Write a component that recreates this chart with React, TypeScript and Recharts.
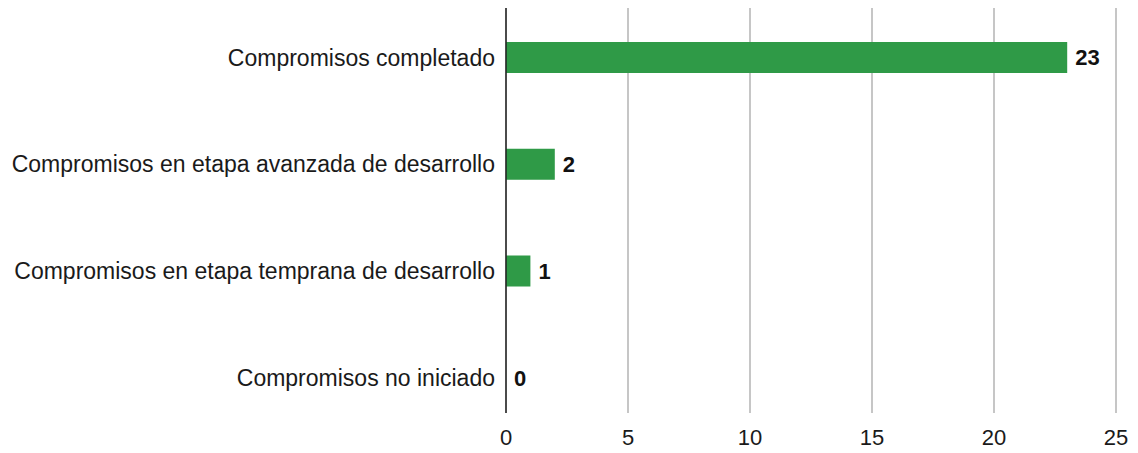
import { BarChart, Bar, XAxis, YAxis, CartesianGrid, LabelList } from "recharts";

const categories = [
  "Compromisos completado",
  "Compromisos en etapa avanzada de desarrollo",
  "Compromisos en etapa temprana de desarrollo",
  "Compromisos no iniciado",
];
const values = [23, 2, 1, 0];
const xTicks = [0, 5, 10, 15, 20, 25];

const data = categories.map((name, i) => ({ name, value: values[i] }));

const font = "'Liberation Sans', Arial, sans-serif";

export default function App() {
  return (
    <div style={{ position: "absolute", left: 0, top: 0, background: "#fff" }}>
      <BarChart
        width={1138}
        height={453}
        data={data}
        layout="vertical"
        margin={{ top: 8, right: 22, bottom: 0, left: 0 }}
      >
        <CartesianGrid horizontal={false} stroke="#b3b3b3" strokeWidth={1.5} />
        <XAxis
          type="number"
          domain={[0, 25]}
          ticks={xTicks}
          axisLine={false}
          tickLine={false}
          tickSize={0}
          tickMargin={16}
          height={40}
          tick={{ fontFamily: font, fontSize: 22, fill: "#1a1a1a" }}
        />
        <YAxis
          type="category"
          dataKey="name"
          width={506}
          padding={{ top: -4, bottom: -18 }}
          axisLine={{ stroke: "#222", strokeWidth: 1.5 }}
          tickLine={false}
          tickSize={0}
          tickMargin={11}
          tick={{ fontFamily: font, fontSize: 23, fill: "#1a1a1a" }}
        />
        <Bar
          dataKey="value"
          fill="#2f9a47"
          barSize={31}
          minPointSize={(v: number) => (v === 0 ? 0.01 : 0)}
          isAnimationActive={false}
        >
          <LabelList
            dataKey="value"
            position="right"
            offset={8}
            style={{ fontFamily: font, fontSize: 22, fontWeight: "bold", fill: "#111" }}
          />
        </Bar>
      </BarChart>
    </div>
  );
}
